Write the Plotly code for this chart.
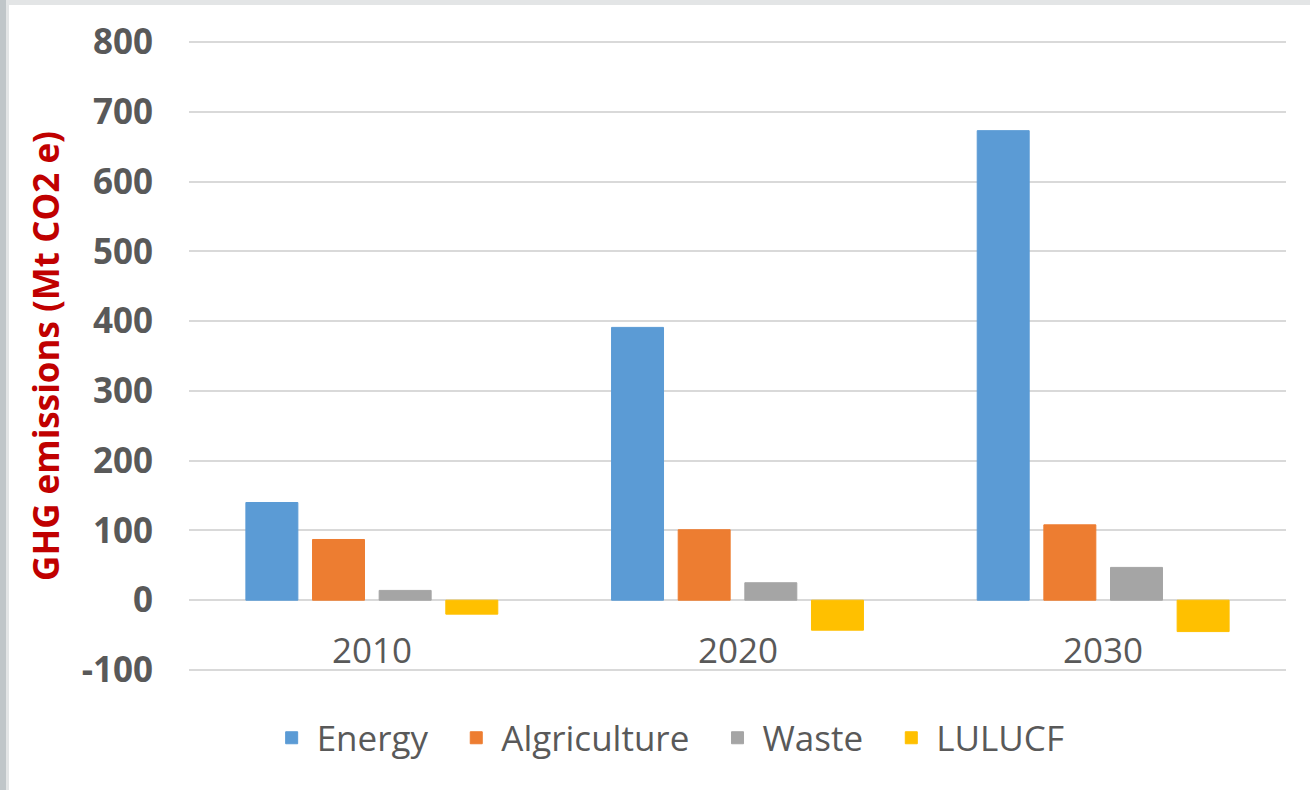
import plotly.graph_objects as go

categories = ["2010", "2020", "2030"]
series_names = ["Energy", "Algriculture", "Waste", "LULUCF"]
energy = [140, 391, 673]
agriculture = [87, 101, 108]
waste = [14, 25, 47]
lulucf = [-20, -43, -45]
colors = ["#5B9BD5", "#ED7D31", "#A5A5A5", "#FFC000"]
y_ticks = [-100, 0, 100, 200, 300, 400, 500, 600, 700, 800]
y_min, y_max = -100, 800

values = [energy, agriculture, waste, lulucf]

fig = go.Figure()
for name, vals, col in zip(series_names, values, colors):
    fig.add_trace(go.Bar(
        x=categories, y=vals, name=name + "\u00a0\u00a0",
        marker=dict(color=col, line=dict(color=col, width=1)),
    ))

# category labels sit just above the bottom gridline, as in the reference
for i, cat in enumerate(categories):
    fig.add_annotation(
        x=i, y=y_min, xref="x", yref="y", text=cat, showarrow=False,
        yanchor="bottom", yshift=-5,
        font=dict(size=35, color="#595959", family="Open Sans"),
    )

# plot area geometry (px); range padded slightly so end gridlines are fully drawn
pad = 1.5
L, R, T, B = 189, 24, 41, 119
W, H = 1310, 790
pw, ph = W - L - R, H - T - B

def px_x(x):
    return (x - L) / pw

def px_y(y):
    return (H - B - y) / ph

shapes = [
    dict(type="rect", xref="paper", yref="paper", layer="below",
         x0=px_x(-5), x1=px_x(6), y0=px_y(800), y1=px_y(-5),
         fillcolor="#C0C6C9", line=dict(width=0)),
    dict(type="rect", xref="paper", yref="paper", layer="below",
         x0=px_x(9), x1=px_x(1320), y0=px_y(800), y1=px_y(5),
         fillcolor="#FFFFFF", line=dict(width=0)),
]

fig.update_layout(
    width=W, height=H,
    margin=dict(l=L, r=R, t=T, b=B, autoexpand=False),
    paper_bgcolor="#E3E5E6",
    plot_bgcolor="rgba(0,0,0,0)",
    barmode="group",
    bargap=0.271,
    bargroupgap=0.22,
    shapes=shapes,
    font=dict(family="Open Sans", color="#595959"),
    showlegend=True,
    legend=dict(
        orientation="h", x=0.445, xanchor="center", y=px_y(738), yanchor="middle",
        font=dict(size=35, color="#595959", family="Open Sans"),
        bgcolor="rgba(0,0,0,0)",
        itemwidth=40,
        itemclick=False,
    ),
    xaxis=dict(
        type="category",
        categoryorder="array",
        categoryarray=categories,
        range=[-0.5, len(categories) - 0.5],
        ticks="",
        showticklabels=False,
        showgrid=False,
        showline=False,
        zeroline=False,
    ),
    yaxis=dict(
        range=[y_min - pad, y_max + pad],
        tickvals=y_ticks,
        ticktext=[str(v) for v in y_ticks],
        ticks="",
        ticklabelstandoff=35,
        tickfont=dict(size=35, color="#595959", family="Open Sans", weight="bold"),
        showgrid=True,
        gridcolor="#D9D9D9",
        gridwidth=2,
        zeroline=True,
        zerolinecolor="#D9D9D9",
        zerolinewidth=2,
        showline=False,
        title=dict(
            text="GHG emissions (Mt CO2 e)",
            font=dict(size=35, color="#C00000", family="Open Sans", weight="bold"),
            standoff=11,
        ),
        automargin=False,
    ),
)

fig.write_html("out.html", config={"displayModeBar": False},
               post_script="document.body.style.margin='0px';")
